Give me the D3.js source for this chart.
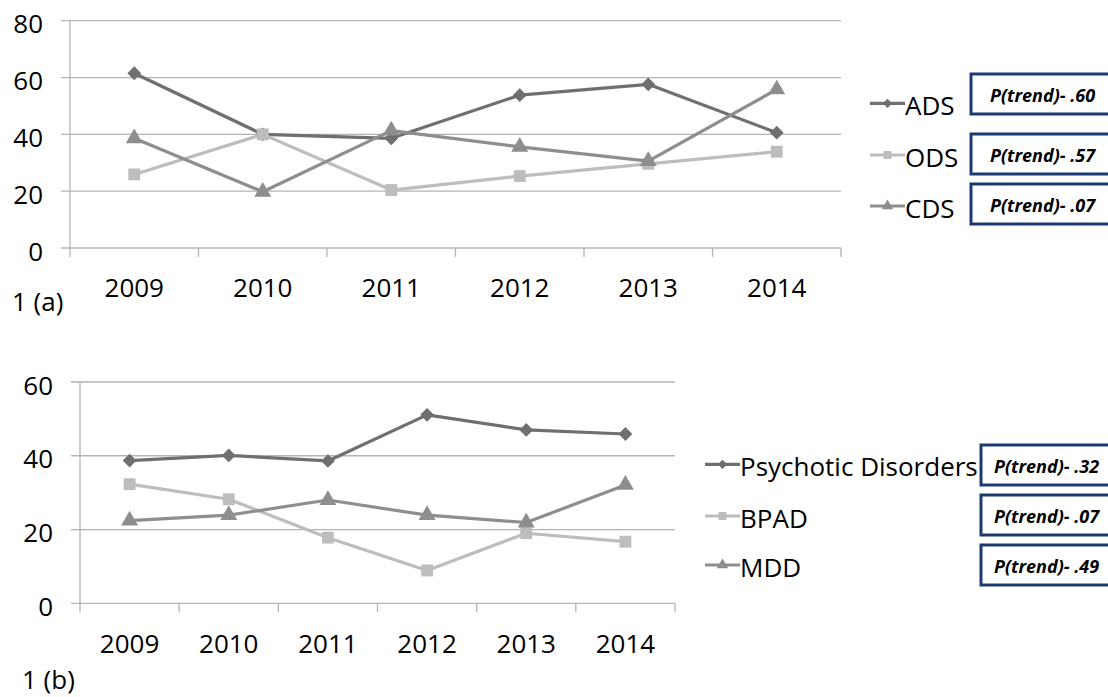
<!DOCTYPE html>
<html>
<head>
<meta charset="utf-8">
<script src="https://cdn.jsdelivr.net/npm/d3@7"></script>
<style>
  body { margin: 0; background: #fff; }
  svg { display: block; font-family: 'Open Sans', sans-serif; }
</style>
</head>
<body>
<svg id="chart" width="1108" height="697"></svg>
<script>
var years = ['2009', '2010', '2011', '2012', '2013', '2014'];

var adsValues = [61.5, 40.0, 38.6, 53.8, 57.6, 40.6];
var odsValues = [25.9, 40.0, 20.4, 25.3, 29.6, 33.9];
var cdsValues = [38.6, 19.8, 41.3, 35.6, 30.6, 55.8];

var psychoticValues = [38.7, 40.1, 38.6, 51.1, 47.0, 45.9];
var bpadValues = [32.3, 28.2, 17.8, 8.9, 19.0, 16.7];
var mddValues = [22.4, 23.9, 28.0, 23.9, 21.9, 32.1];

var topTicks = [0, 20, 40, 60, 80];
var bottomTicks = [0, 20, 40, 60];

var topNames = ['ADS', 'ODS', 'CDS'];
var bottomNames = ['Psychotic Disorders', 'BPAD', 'MDD'];
var topTrend = ['P(trend)- .60', 'P(trend)- .57', 'P(trend)- .07'];
var bottomTrend = ['P(trend)- .32', 'P(trend)- .07', 'P(trend)- .49'];

// series look: dark diamond, light square, mid triangle
var looks = [
  { color: '#6f6f6f', symbol: d3.symbolSquare, size: 95, rotate: 45 },
  { color: '#bdbdbd', symbol: d3.symbolSquare, size: 140, rotate: 0 },
  { color: '#8e8e8e', symbol: d3.symbolTriangle, size: 125, rotate: 0 }
];

var svg = d3.select('#chart');

drawPanel({
  series: [adsValues, odsValues, cdsValues],
  names: topNames,
  trend: topTrend,
  ticks: topTicks,
  xRange: [70, 841],
  yRange: [248, 20.7],
  tag: '1 (a)',
  tagPos: [12, 311],
  xLabelY: 297,
  legendX: 870,
  legendY: [103.3, 155, 206],
  boxX: 971,
  boxPadX: 19,
  boxY: [74, 134, 184]
});

drawPanel({
  series: [psychoticValues, bpadValues, mddValues],
  names: bottomNames,
  trend: bottomTrend,
  ticks: bottomTicks,
  xRange: [80, 675],
  yRange: [603.3, 382],
  tag: '1 (b)',
  tagPos: [22, 689],
  xLabelY: 652.7,
  legendX: 705,
  legendY: [464.3, 516, 565],
  boxX: 981,
  boxPadX: 13,
  boxY: [445, 495, 545]
});

function drawPanel(cfg) {
  var g = svg.append('g');
  var x = d3.scaleBand().domain(years).range(cfg.xRange);
  var y = d3.scaleLinear()
    .domain([0, d3.max(cfg.ticks)])
    .range(cfg.yRange);
  var cx = function(d, i) { return x(years[i]) + x.bandwidth() / 2; };

  // gridlines
  g.selectAll('.grid').data(cfg.ticks).enter().append('line')
    .attr('x1', cfg.xRange[0] - 9).attr('x2', cfg.xRange[1])
    .attr('y1', y).attr('y2', y)
    .attr('stroke', '#b4b4b4').attr('stroke-width', 1.3);

  // y axis line
  g.append('line')
    .attr('x1', cfg.xRange[0]).attr('x2', cfg.xRange[0])
    .attr('y1', y(d3.max(cfg.ticks))).attr('y2', y(0) + 9)
    .attr('stroke', '#b4b4b4').attr('stroke-width', 1.3);

  // category ticks at band edges
  var edges = years.map(function(yr) { return x(yr); }).concat([cfg.xRange[1]]);
  g.selectAll('.xtick').data(edges.slice(1)).enter().append('line')
    .attr('x1', function(d) { return d; }).attr('x2', function(d) { return d; })
    .attr('y1', y(0)).attr('y2', y(0) + 9)
    .attr('stroke', '#b4b4b4').attr('stroke-width', 1.3);

  // y labels
  g.selectAll('.ylab').data(cfg.ticks).enter().append('text')
    .attr('x', cfg.xRange[0] - 27)
    .attr('y', function(d) { return y(d) + 12.5; })
    .attr('text-anchor', 'end')
    .attr('font-size', 26)
    .attr('fill', '#000')
    .text(function(d) { return d; });

  // x labels
  g.selectAll('.xlab').data(years).enter().append('text')
    .attr('x', function(d) { return x(d) + x.bandwidth() / 2; })
    .attr('y', cfg.xLabelY)
    .attr('text-anchor', 'middle')
    .attr('font-size', 26)
    .attr('fill', '#000')
    .text(function(d) { return d; });

  g.append('text')
    .attr('x', cfg.tagPos[0]).attr('y', cfg.tagPos[1])
    .attr('font-size', 26).attr('fill', '#000')
    .text(cfg.tag);

  var line = d3.line().x(cx).y(function(d) { return y(d); });

  cfg.series.forEach(function(vals, s) {
    var look = looks[s];
    g.append('path')
      .attr('d', line(vals))
      .attr('fill', 'none')
      .attr('stroke', look.color)
      .attr('stroke-width', 3.2)
      .attr('stroke-linejoin', 'round');
    g.selectAll('.m' + s).data(vals).enter().append('path')
      .attr('d', d3.symbol().type(look.symbol).size(look.size))
      .attr('transform', function(d, i) {
        return 'translate(' + cx(d, i) + ',' + y(d) + ') rotate(' + look.rotate + ')';
      })
      .attr('fill', look.color);
  });

  // legend
  cfg.names.forEach(function(name, s) {
    var look = looks[s];
    var ly = cfg.legendY[s];
    g.append('line')
      .attr('x1', cfg.legendX).attr('x2', cfg.legendX + 35)
      .attr('y1', ly).attr('y2', ly)
      .attr('stroke', look.color).attr('stroke-width', 3.2);
    g.append('path')
      .attr('d', d3.symbol().type(look.symbol).size(look.size * 0.45))
      .attr('transform', 'translate(' + (cfg.legendX + 17.5) + ',' + ly + ') rotate(' + look.rotate + ')')
      .attr('fill', look.color);
    g.append('text')
      .attr('x', cfg.legendX + 35).attr('y', ly + 12)
      .attr('font-size', 26).attr('fill', '#000')
      .text(name);
  });

  // p(trend) boxes
  cfg.trend.forEach(function(label, s) {
    var by = cfg.boxY[s];
    g.append('rect')
      .attr('x', cfg.boxX).attr('y', by)
      .attr('width', 160).attr('height', 40)
      .attr('fill', '#fff')
      .attr('stroke', '#1c3a72').attr('stroke-width', 3);
    g.append('text')
      .attr('x', cfg.boxX + cfg.boxPadX).attr('y', by + 28)
      .attr('font-size', 18).attr('font-weight', 'bold')
      .attr('font-style', 'italic').attr('fill', '#000')
      .text(label);
  });
}
</script>
</body>
</html>
